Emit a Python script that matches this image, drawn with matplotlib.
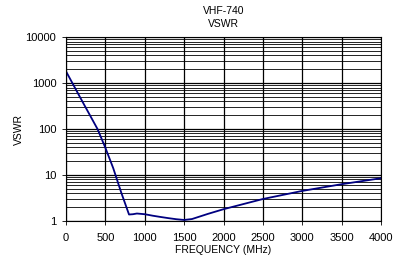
import matplotlib
matplotlib.use('Agg')
import matplotlib.pyplot as plt
from matplotlib.ticker import LogLocator, FixedLocator, NullFormatter

plt.rcParams['font.family'] = ['Liberation Sans', 'DejaVu Sans']

# Donnees
freq = [0, 100, 200, 300, 400, 500, 600, 700, 800, 850, 900, 1000, 1100, 1200,
        1300, 1400, 1500, 1600, 1700, 1800, 2000, 2500, 3000, 3500, 4000]
vswr = [1800, 870, 420, 205, 100, 39, 14, 4.2, 1.38, 1.4, 1.45, 1.4, 1.3, 1.22,
        1.15, 1.09, 1.05, 1.1, 1.25, 1.42, 1.8, 3.0, 4.5, 6.3, 8.5]

fig = plt.figure(figsize=(3.96, 2.56), dpi=100)
ax = fig.add_axes([0.1667, 0.137, 0.7955, 0.718])

ax.plot(freq, vswr, color='#000080', linewidth=1.3)

ax.set_yscale('log')
ax.set_xlim(0, 4000)
ax.set_ylim(1, 10000)
ax.xaxis.set_major_locator(FixedLocator(range(0, 4001, 500)))
ax.yaxis.set_major_locator(FixedLocator([1, 10, 100, 1000, 10000]))
ax.yaxis.set_major_formatter(plt.FuncFormatter(lambda v, p: f'{v:.0f}'))
ax.yaxis.set_minor_locator(LogLocator(base=10, subs=range(2, 10)))
ax.yaxis.set_minor_formatter(NullFormatter())

ax.grid(True, which='major', color='black', linewidth=0.9)
ax.grid(True, which='minor', axis='y', color='black', linewidth=0.6)
ax.tick_params(axis='both', which='major', labelsize=8, length=3, width=0.6)
ax.tick_params(axis='x', pad=6)
ax.tick_params(axis='y', pad=4)
ax.tick_params(axis='y', which='minor', length=0)
for s in ax.spines.values():
    s.set_linewidth(0.8)

ax.set_title('VHF-740\nVSWR', fontsize=7.5, pad=7, linespacing=1.45)
ax.set_ylabel('VSWR', fontsize=7.5)
ax.yaxis.set_label_coords(-0.135, 0.5)
ax.set_xlabel('FREQUENCY (MHz)', fontsize=7.5, labelpad=1)

plt.savefig('out.png', dpi=100)
plt.close()
